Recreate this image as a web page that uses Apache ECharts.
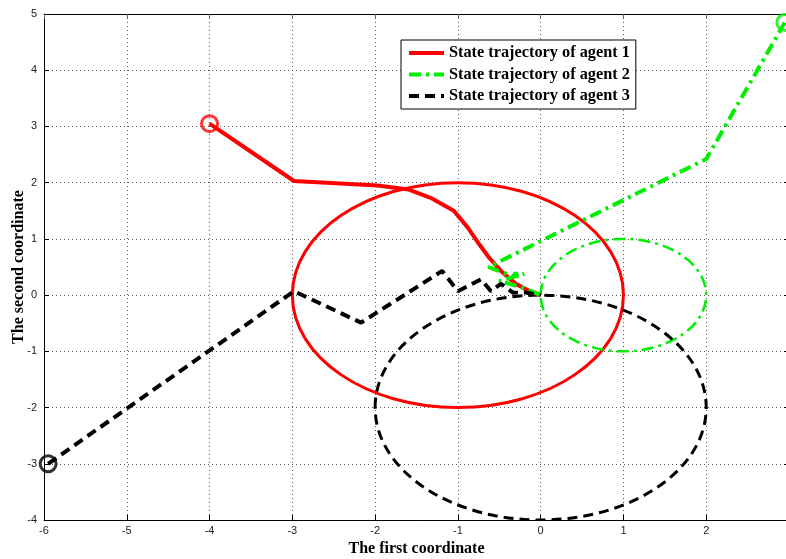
<!DOCTYPE html>
<html><head><meta charset="utf-8">
<script src="https://cdn.jsdelivr.net/npm/echarts@6/dist/echarts.min.js"></script>
<style>html,body{margin:0;padding:0;background:#fff;overflow:hidden}#c{width:800px;height:559px}</style>
</head><body><div id="c"></div>
<script>
// Tick labels
var xTicks = [-6,-5,-4,-3,-2,-1,0,1,2,3];
var yTicks = [-4,-3,-2,-1,0,1,2,3,4,5];
// Series names
var names = ['State trajectory of agent 1','State trajectory of agent 2','State trajectory of agent 3'];
// Trajectories (x, y)
var agent1 = [[-4,3.05],[-3.5,2.55],[-2.98,2.03],[-1.97,1.95],[-1.6,1.88],[-1.33,1.73],[-1.05,1.5],[-0.88,1.2],[-0.74,0.9],[-0.62,0.66],[-0.48,0.43],[-0.3,0.2],[-0.12,0.06],[0,0]];
var agent2 = [[2.95,4.85],[2,2.42],[-0.63,0.5],[-0.33,0.33],[-0.3,0.4],[-0.28,0.33],[-0.2,0.38],[-0.5,0.25],[-0.25,0.15],[0,0]];
var agent3 = [[-5.95,-3.0],[-2.98,0.07],[-2.17,-0.49],[-1.19,0.43],[-1.0,0.07],[-0.72,0.28],[-0.6,0.07],[-0.48,0.2],[-0.33,0.04],[-0.2,0.05],[0,0]];
// Start points (markers)
var starts = [[-4,3.05],[2.95,4.85],[-5.95,-3.0]];
// Reference circles: centre x, centre y, radius
var circCx = [-1, 1, 0];
var circCy = [0, 0, -2];
var circR  = [2, 1, 2];

var colors = ['#ff0000','#00ee00','#000000'];
var types = ['solid',[12,5,3,5],[10,6]];
var trajW = [4,4,4];
var circW = [3,2.5,3];

var chart = echarts.init(document.getElementById('c'));
var series = [];
var trajs = [agent1, agent2, agent3];
for (var i=0;i<3;i++){
  (function(i){
  series.push({
    type:'custom', name:names[i]+'_c', silent:true,
    data:[[circCx[i],circCy[i],circR[i]]],
    renderItem:function(params, api){
      var c = api.coord([api.value(0), api.value(1)]);
      var s = api.size([api.value(2), api.value(2)]);
      return {type:'ellipse', shape:{cx:c[0],cy:c[1],rx:s[0],ry:s[1]},
        style:{fill:null, stroke:colors[i], lineWidth:circW[i], lineDash: types[i]==='solid'?null:types[i]}};
    },
    clip:true, z:2
  });
  })(i);
}
for (var i=0;i<3;i++){
  series.push({
    type:'line', name:names[i], data:trajs[i], symbol:'none', smooth:false,
    lineStyle:{color:colors[i], width:trajW[i], type:types[i]},
    itemStyle:{color:colors[i]}, clip:true, z:3, animation:false
  });
}
for (var i=0;i<3;i++){
  series.push({
    type:'scatter', data:[starts[i]], symbol:'circle', symbolSize:16,
    itemStyle:{color:'rgba(0,0,0,0)', borderColor:colors[i], borderWidth:3}, z:4, clip:false
  });
}

var splitStyle = {show:true, lineStyle:{color:'#555', type:[1,3], width:1}};
var labelStyle = {color:'#222', fontFamily:'Liberation Sans, Arial', fontSize:11};
var nameStyle = {fontFamily:'Liberation Serif, Times New Roman, serif', fontWeight:'bold', fontSize:16, color:'#000'};

chart.setOption({
  animation:false,
  grid:{left:44, top:14, right:11, bottom:39, show:false, outerBoundsMode:'none', containLabel:false},
  legend:{
    data:names, orient:'vertical', left:401, top:40,
    backgroundColor:'#fff', borderColor:'#000', borderWidth:1, padding:[5,6,5,6],
    itemWidth:35, itemHeight:16, itemGap:5.5, itemStyle:{opacity:0},
    lineStyle:{width:4},
    textStyle:{fontFamily:'Liberation Serif, Times New Roman, serif', fontWeight:'bold', fontSize:16.3, color:'#000'}
  },
  xAxis:[{
    type:'value', min:-6, max:3, interval:1, position:'bottom',
    name:'The first coordinate', nameLocation:'middle', nameGap:19,
    nameTextStyle:nameStyle,
    axisLine:{show:true, onZero:false, lineStyle:{color:'#000', width:1}},
    axisTick:{show:true, inside:true, length:5, lineStyle:{color:'#000'}},
    axisLabel:Object.assign({margin:5, formatter:function(v){return xTicks.indexOf(v)>=0?String(v):'';}}, labelStyle),
    splitLine:splitStyle
  },{
    type:'value', min:-6, max:3, interval:1, position:'top',
    axisLine:{show:true, onZero:false, lineStyle:{color:'#000', width:1}},
    axisTick:{show:true, inside:true, length:5, lineStyle:{color:'#666'}},
    axisLabel:{show:false}, splitLine:{show:false}
  }],
  yAxis:[{
    type:'value', min:-4, max:5, interval:1, position:'left',
    name:'The second coordinate', nameLocation:'middle', nameGap:17, nameMoveOverlap:false,
    nameTextStyle:nameStyle,
    axisLine:{show:true, onZero:false, lineStyle:{color:'#000', width:1}},
    axisTick:{show:true, inside:true, length:5, lineStyle:{color:'#000'}},
    axisLabel:Object.assign({margin:7, formatter:function(v){return yTicks.indexOf(v)>=0?String(v):'';}}, labelStyle),
    splitLine:splitStyle
  },{
    type:'value', min:-4, max:5, interval:1, position:'right',
    axisLine:{show:true, onZero:false, lineStyle:{color:'#000', width:1}},
    axisTick:{show:true, inside:true, length:5},
    axisLabel:{show:false}, splitLine:{show:false}
  }],
  series:series
});
</script></body></html>
